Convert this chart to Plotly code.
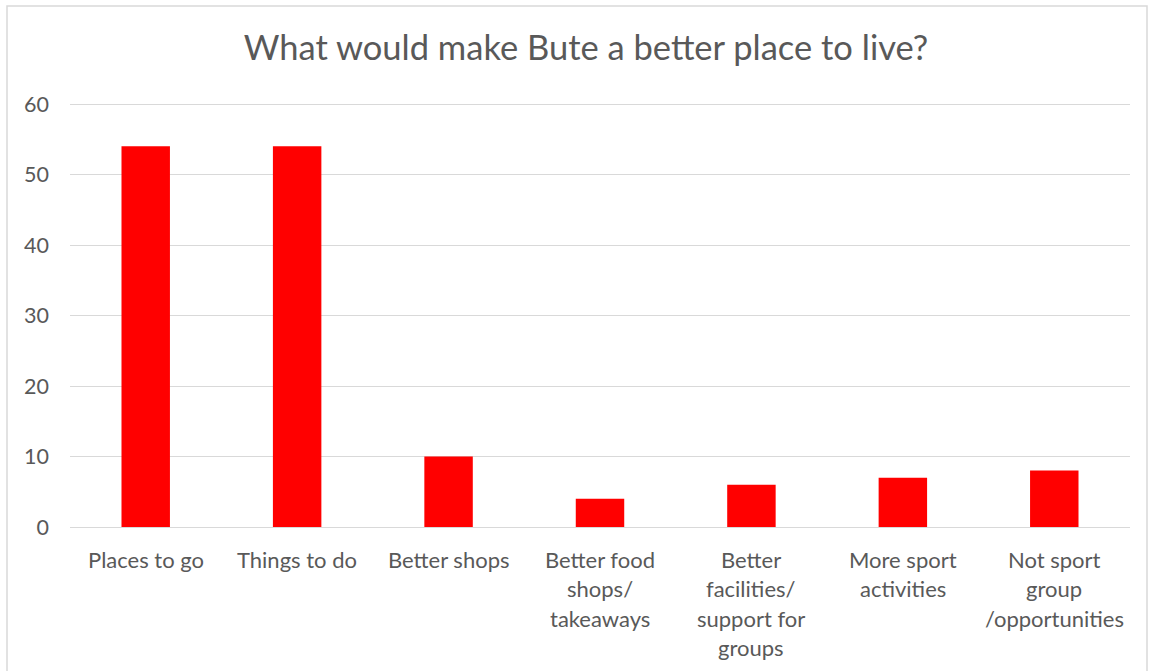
import plotly.graph_objects as go

categories = ["Places to go", "Things to do", "Better shops", "Better food shops/ takeaways",
              "Better facilities/ support for groups", "More sport activities",
              "Not sport group /opportunities"]
label_lines = [["Places to go"], ["Things to do"], ["Better shops"],
               ["Better food", "shops/", "takeaways"],
               ["Better", "facilities/", "support for", "groups"],
               ["More sport", "activities"],
               ["Not sport", "group", "/opportunities"]]
values = [54, 54, 10, 4, 6, 7, 8]
y_ticks = [0, 10, 20, 30, 40, 50, 60]

txt = "#595959"
font = "Lato"
YMAX = 60.15

W, H = 1152, 671
L, R, B = 70, 22, 144
ph = 423 * YMAX / 60
T = H - B - ph
pw = W - L - R

fig = go.Figure(go.Bar(x=categories, y=values, marker=dict(color="#ff0000", line=dict(width=0)),
                       width=0.32))

annotations = []
for cat, lines in zip(categories, label_lines):
    for i, line in enumerate(lines):
        annotations.append(dict(x=cat, xref="x", y=0, yref="y", yanchor="middle",
                                yshift=-32 - i * 29.5, text=line, showarrow=False,
                                font=dict(family=font, size=22, color=txt)))

fig.update_layout(
    width=W, height=H,
    margin=dict(l=L, r=R, t=T, b=B),
    paper_bgcolor="white", plot_bgcolor="white",
    title=dict(text="What would make Bute a better place to live?", x=586 / W, xanchor="center",
               xref="container", y=1 - 48 / H, yanchor="middle",
               font=dict(family=font, size=34.5, color=txt)),
    xaxis=dict(showticklabels=False, showgrid=False, showline=False, zeroline=False,
               range=[-0.5, 6.5]),
    yaxis=dict(range=[0, YMAX], tickvals=y_ticks, showgrid=True, gridcolor="#d9d9d9",
               gridwidth=1.2, zeroline=True, zerolinecolor="#d9d9d9", zerolinewidth=1.2,
               showline=False, ticks="", ticklabelstandoff=20,
               tickfont=dict(family=font, size=21.5, color=txt)),
    annotations=annotations,
    shapes=[dict(type="rect", xref="paper", yref="paper",
                 x0=(7 - L) / pw, x1=(1147 - L) / pw,
                 y0=(H - B - 690) / ph, y1=(H - B - 6) / ph,
                 line=dict(color="#d9d9d9", width=1.5), layer="below")],
    showlegend=False,
)

fig.write_html("out.html", config={"displayModeBar": False},
               post_script="document.body.style.margin='0';document.body.style.overflow='hidden';")
